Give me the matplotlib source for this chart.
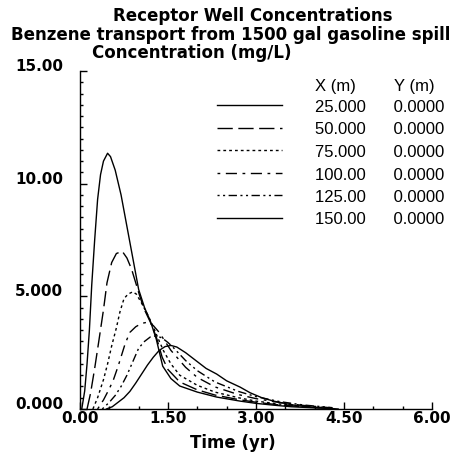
import matplotlib
matplotlib.use("Agg")
import matplotlib.pyplot as plt
import matplotlib.transforms as mtransforms
from matplotlib.ticker import MultipleLocator

# Receptor well distances (m) and lateral offsets (m)
wells_x = ["25.000", "50.000", "75.000", "100.00", "125.00", "150.00"]
wells_y = ["0.0000", "0.0000", "0.0000", "0.0000", "0.0000", "0.0000"]

# Concentration curves: time (yr), concentration (mg/L)
t_25 = [0.03, 0.08, 0.12, 0.16, 0.20, 0.25, 0.30, 0.35, 0.40, 0.47, 0.52, 0.60, 0.70,
        0.80, 0.90, 1.00, 1.10, 1.20, 1.30, 1.41, 1.55, 1.70, 2.00, 2.33, 2.73, 3.00,
        3.30, 3.60, 4.00, 4.30]
c_25 = [0.0, 0.8, 2.0, 3.5, 5.5, 7.5, 9.3, 10.4, 11.0, 11.35, 11.2, 10.6, 9.5,
        8.1, 6.7, 5.3, 4.5, 3.9, 3.1, 1.9, 1.35, 1.02, 0.75, 0.53, 0.35, 0.25,
        0.17, 0.10, 0.05, 0.02]

t_50 = [0.12, 0.18, 0.25, 0.32, 0.40, 0.46, 0.54, 0.62, 0.72, 0.80, 0.88, 0.95, 1.02,
        1.10, 1.20, 1.30, 1.40, 1.50, 1.70, 2.00, 2.30, 2.70, 3.00, 3.40, 3.80, 4.30]
c_50 = [0.0, 0.7, 1.8, 3.0, 4.4, 5.6, 6.5, 6.9, 7.0, 6.7, 6.2, 5.6, 5.0,
        4.4, 3.85, 3.2, 2.3, 1.75, 1.2, 0.85, 0.62, 0.42, 0.30, 0.18, 0.10, 0.03]

t_75 = [0.22, 0.30, 0.40, 0.47, 0.54, 0.62, 0.68, 0.75, 0.82, 0.90, 0.96, 1.05, 1.15,
        1.23, 1.32, 1.42, 1.55, 1.70, 2.00, 2.30, 2.70, 3.00, 3.40, 3.80, 4.30]
c_75 = [0.0, 0.5, 1.3, 2.0, 2.8, 3.6, 4.3, 4.9, 5.1, 5.2, 5.1, 4.7, 4.2,
        3.76, 3.2, 2.6, 2.0, 1.5, 1.05, 0.75, 0.50, 0.35, 0.22, 0.12, 0.04]

t_100 = [0.30, 0.40, 0.50, 0.57, 0.65, 0.77, 0.85, 0.95, 1.05, 1.15, 1.25, 1.35, 1.45,
         1.55, 1.65, 1.80, 2.00, 2.30, 2.70, 3.00, 3.40, 3.80, 4.30]
c_100 = [0.0, 0.4, 0.9, 1.3, 1.9, 2.9, 3.4, 3.65, 3.8, 3.85, 3.7, 3.4, 3.0,
         2.6, 2.3, 1.85, 1.4, 0.98, 0.64, 0.46, 0.29, 0.16, 0.05]

t_125 = [0.38, 0.50, 0.60, 0.70, 0.80, 0.90, 1.00, 1.10, 1.20, 1.30, 1.40, 1.50, 1.60,
         1.80, 2.00, 2.30, 2.70, 3.00, 3.40, 3.80, 4.30]
c_125 = [0.0, 0.3, 0.6, 1.0, 1.5, 2.1, 2.7, 3.0, 3.2, 3.25, 3.15, 2.95, 2.7,
         2.15, 1.7, 1.2, 0.78, 0.55, 0.33, 0.18, 0.06]

t_150 = [0.45, 0.55, 0.65, 0.75, 0.85, 0.95, 1.05, 1.15, 1.25, 1.35, 1.45, 1.55, 1.65,
         1.80, 2.00, 2.15, 2.33, 2.50, 2.73, 2.90, 3.10, 3.30, 3.50, 3.70, 3.90, 4.10,
         4.30, 4.40]
c_150 = [0.0, 0.1, 0.3, 0.5, 0.78, 1.15, 1.55, 1.95, 2.3, 2.6, 2.77, 2.82, 2.75,
         2.5, 2.1, 1.8, 1.55, 1.25, 0.97, 0.72, 0.50, 0.35, 0.24, 0.15, 0.09, 0.05,
         0.02, 0.0]

x_ticks = [0.0, 1.5, 3.0, 4.5, 6.0]
x_labels = ["0.00", "1.50", "3.00", "4.50", "6.00"]
y_ticks = [0.0, 5.0, 10.0, 15.0]
y_labels = ["0.000", "5.000", "10.00", "15.00"]

series = [(t_25, c_25), (t_50, c_50), (t_75, c_75),
          (t_100, c_100), (t_125, c_125), (t_150, c_150)]
styles = ["-", (0, (11, 4)), (0, (2, 2.2)), (0, (2, 4, 8, 4)),
          (0, (1.5, 2.5, 1.5, 2.5, 6, 2.5)), "-"]

fig = plt.figure(figsize=(4.62, 4.56), dpi=100)
ax = fig.add_axes([80 / 462, 46 / 456, 352 / 462, 338 / 456])

for (t, c), ls, xl, yl in zip(series, styles, wells_x, wells_y):
    ax.plot(t, c, color="black", lw=1.0, linestyle=ls,
            label=f"{xl}      {yl}")

ax.set_xlim(0, 6)
ax.set_ylim(0, 15)
ax.set_xticks(x_ticks)
ax.set_xticklabels(x_labels)
ax.set_yticks(y_ticks)
ax.set_yticklabels(y_labels)
ax.xaxis.set_minor_locator(MultipleLocator(0.5))
ax.yaxis.set_minor_locator(MultipleLocator(0.5))

for side in ["top", "right"]:
    ax.spines[side].set_visible(False)
for side in ["left", "bottom"]:
    ax.spines[side].set_linewidth(1.0)

ax.tick_params(which="major", direction="in", length=5, width=1.0)
ax.tick_params(which="minor", direction="in", length=2.5, width=1.0)
ax.tick_params(axis="y", which="major", pad=12)
ax.tick_params(axis="x", which="major", pad=1)

tick_font = dict(family="DejaVu Sans", weight="bold", size=11)
for lab in ax.get_xticklabels() + ax.get_yticklabels():
    lab.set_fontproperties(matplotlib.font_manager.FontProperties(**tick_font))
# y labels sit a little above their ticks in the original
shift = mtransforms.ScaledTranslation(0, 5 / 72, fig.dpi_scale_trans)
for lab in ax.get_yticklabels():
    lab.set_transform(lab.get_transform() + shift)

title_font = dict(family="DejaVu Sans", weight="bold", size=12)
fig.text(253 / 462, 1 - 16 / 456, "Receptor Well Concentrations",
         ha="center", va="center", **title_font)
fig.text(231 / 462, 1 - 35 / 456, "Benzene transport from 1500 gal gasoline spill",
         ha="center", va="center", **title_font)
fig.text(192 / 462, 1 - 53 / 456, "Concentration (mg/L)",
         ha="center", va="center", **title_font)
fig.text(233 / 462, 1 - 443 / 456, "Time (yr)",
         ha="center", va="center", **title_font)

leg_font = dict(family="Liberation Sans", size=12)
leg = ax.legend(loc="upper left", bbox_to_anchor=(217 / 462, 1 - 100 / 456),
                bbox_transform=fig.transFigure, frameon=False, borderpad=0,
                borderaxespad=0, handlelength=3.9, handletextpad=2.0,
                labelspacing=0.45, prop=leg_font)
fig.text(315 / 462, 1 - 87 / 456, "X (m)", ha="left", va="center", **leg_font)
fig.text(394 / 462, 1 - 87 / 456, "Y (m)", ha="left", va="center", **leg_font)

fig.savefig("out.png", dpi=100)
